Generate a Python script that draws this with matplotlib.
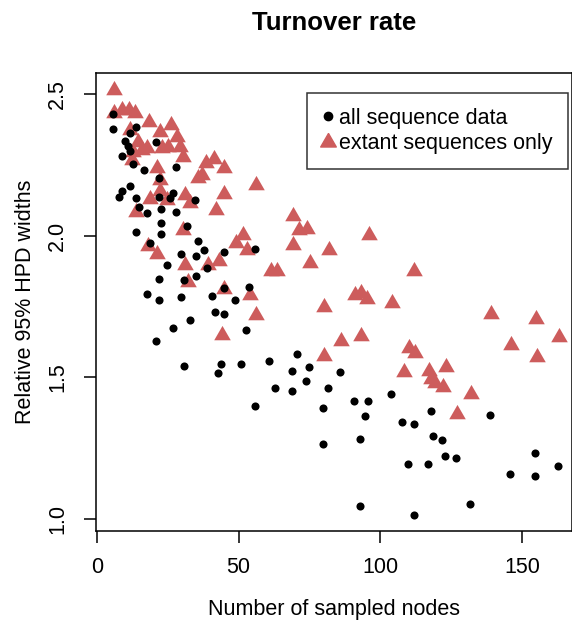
import matplotlib
matplotlib.use("Agg")
import matplotlib.pyplot as plt
from matplotlib.lines import Line2D

plt.rcParams["font.family"] = ["Liberation Sans", "DejaVu Sans"]

# all sequence data (black dots)
all_x = [5.8, 5.8, 13.8, 11.8, 20.8, 9.8, 10.8, 11.6, 8.7, 27.8,
         12.7, 16.7, 21.8, 11.8, 8.8, 7.8, 13.9, 21.8, 26.7, 25.8,
         34.7, 14.7, 22.7, 17.8, 27.8, 22.7, 31.7, 13.8, 22.7, 35.6,
         18.7, 29.8, 34.8, 37.8, 44.7, 55.7, 24.8, 38.7, 21.8, 30.8,
         34.8, 44.7, 53.7, 17.8, 21.8, 29.8, 40.7, 48.7, 41.7, 44.7,
         32.7, 26.8, 52.7, 20.8, 30.8, 43.8, 50.7, 42.7, 55.7, 70.7,
         60.8, 68.7, 74.7, 85.7, 62.7, 68.7, 73.8, 81.6, 103.7, 79.8,
         90.7, 95.8, 94.7, 107.8, 111.7, 79.8, 92.7, 109.7, 92.7, 111.7,
         117.7, 138.6, 118.7, 121.7, 122.7, 126.7, 154.6, 162.7, 116.7, 145.7,
         154.6, 131.7]
all_y = [2.428, 2.378, 2.384, 2.361, 2.330, 2.334, 2.316, 2.300, 2.280, 2.241,
         2.254, 2.232, 2.205, 2.176, 2.159, 2.137, 2.134, 2.137, 2.149, 2.133,
         2.126, 2.102, 2.093, 2.079, 2.082, 2.046, 2.035, 2.013, 2.006, 1.980,
         1.975, 1.934, 1.929, 1.949, 1.943, 1.954, 1.895, 1.886, 1.846, 1.845,
         1.859, 1.816, 1.820, 1.793, 1.774, 1.783, 1.786, 1.773, 1.732, 1.725,
         1.703, 1.675, 1.668, 1.628, 1.541, 1.549, 1.548, 1.515, 1.398, 1.583,
         1.559, 1.521, 1.535, 1.518, 1.462, 1.452, 1.486, 1.461, 1.440, 1.393,
         1.417, 1.417, 1.363, 1.342, 1.334, 1.266, 1.281, 1.196, 1.048, 1.015,
         1.381, 1.369, 1.294, 1.278, 1.222, 1.214, 1.235, 1.188, 1.195, 1.158,
         1.153, 1.054]

# extant sequences only (red triangles)
ext_x = [139.1, 155.0, 163.1, 146.1, 155.1, 110.2, 112.1, 108.4, 117.1, 123.2,
         118.0, 119.3, 122.1, 132.1, 127.1,
         56.1, 69.1, 71.2, 74.2, 96.1, 51.4, 69.1, 53.1, 82.0, 75.2,
         61.3, 63.4, 111.9, 91.2, 93.1, 95.2, 54.1, 104.0, 56.1, 80.1,
         86.1, 93.1, 80.1,
         18.1, 21.1, 49.1, 31.1, 39.3, 43.2, 32.0, 44.8, 44.0,
         6.0, 6.1, 8.7, 11.4, 13.4, 18.2, 26.0, 11.6, 22.2, 28.1,
         14.6, 12.8, 15.8, 17.5, 22.8, 25.2, 29.3, 30.5, 21.3, 12.2,
         38.5, 41.3, 44.8, 35.8, 36.9, 22.2, 22.2, 31.1, 44.8, 18.7,
         24.6, 32.8, 13.8, 42.0, 30.5]
ext_y = [1.725, 1.706, 1.642, 1.614, 1.572, 1.602, 1.585, 1.518, 1.523, 1.535,
         1.495, 1.479, 1.465, 1.441, 1.372,
         2.180, 2.068, 2.019, 2.024, 2.001, 2.001, 1.968, 1.950, 1.949, 1.903,
         1.874, 1.874, 1.874, 1.792, 1.798, 1.777, 1.792, 1.762, 1.721, 1.747,
         1.630, 1.645, 1.576,
         1.963, 1.936, 1.973, 1.898, 1.898, 1.909, 1.836, 1.813, 1.648,
         2.514, 2.432, 2.444, 2.444, 2.432, 2.401, 2.389, 2.373, 2.365, 2.349,
         2.332, 2.296, 2.302, 2.308, 2.308, 2.312, 2.312, 2.279, 2.239, 2.267,
         2.257, 2.269, 2.239, 2.204, 2.214, 2.196, 2.157, 2.142, 2.148, 2.128,
         2.126, 2.115, 2.082, 2.092, 2.019]

red = "#CD5C5C"
# R-style triangle (centroid at the point)
tri = [(0, 1), (-0.866, -0.5), (0.866, -0.5), (0, 1)]

fig = plt.figure(figsize=(5.72, 6.24), dpi=100)
ax = fig.add_axes([0.168, 0.149, 0.832, 0.7345])

ax.scatter(ext_x, ext_y, marker=tri, s=190, color=red, linewidths=0, zorder=2)
ax.scatter(all_x, all_y, marker="o", s=34, color="black", linewidths=0, zorder=3)

ax.set_xlim(-0.3, 167.6)
ax.set_ylim(0.958, 2.575)
ax.set_xticks([0, 50, 100, 150])
ax.set_yticks([1.0, 1.5, 2.0, 2.5])
ax.set_yticklabels(["1.0", "1.5", "2.0", "2.5"], rotation=90, va="center")
ax.tick_params(length=8.5, width=1.1, labelsize=15.5, color="black")
ax.tick_params(axis="x", pad=10.5)
ax.tick_params(axis="y", pad=11.5)
for s in ax.spines.values():
    s.set_linewidth(1.1)

ax.set_xlabel("Number of sampled nodes", fontsize=15.5, labelpad=15)
ax.set_ylabel("Relative 95% HPD widths", fontsize=15.5, labelpad=8)
ax.set_title("Turnover rate", fontsize=18.5, fontweight="bold", pad=31)

handles = [
    Line2D([], [], marker="o", linestyle="none", color="black", markersize=6),
    Line2D([], [], marker=tri, linestyle="none", color=red, markersize=13),
]
leg = ax.legend(handles, ["all sequence data", "extant sequences only"],
                loc="upper right", bbox_to_anchor=(0.9916, 0.9563),
                fontsize=15.5, frameon=True, fancybox=False,
                handletextpad=0.25, borderpad=0.7, labelspacing=0.2,
                handlelength=0.55, borderaxespad=0)
leg.get_frame().set_edgecolor("black")
leg.get_frame().set_linewidth(1.1)

fig.savefig("out.png", dpi=100)
